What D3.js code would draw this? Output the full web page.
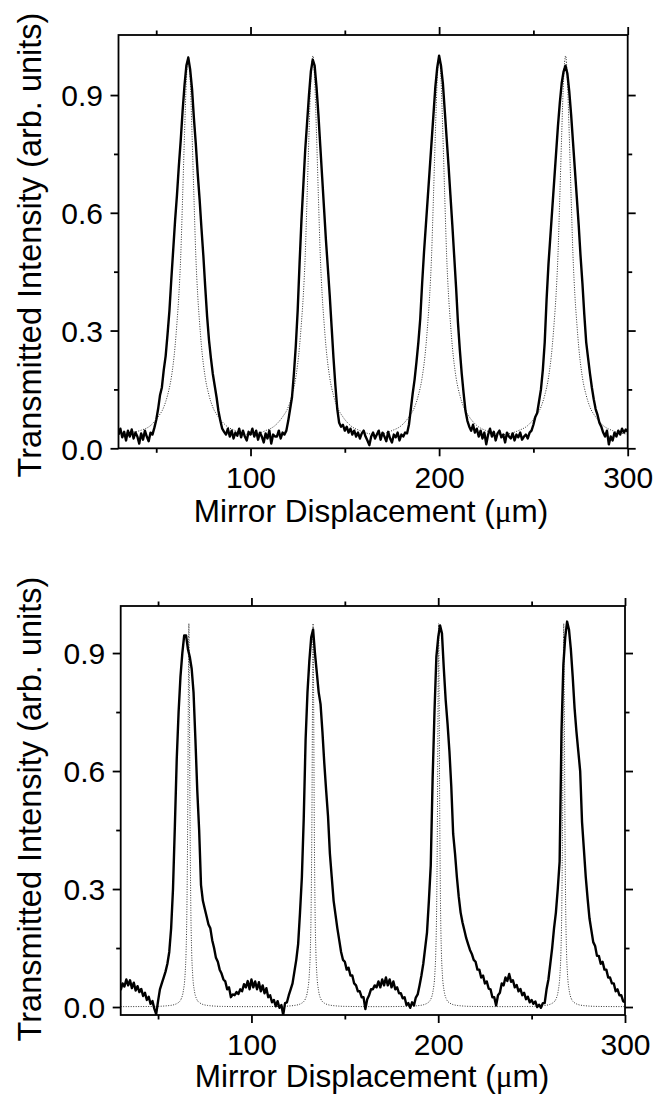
<!DOCTYPE html>
<html>
<head>
<meta charset="utf-8">
<script src="https://cdn.jsdelivr.net/npm/d3@7"></script>
<style>
  body { margin: 0; background: #fff; }
  text { font-family: "Liberation Sans", Arial, sans-serif; fill: #000; }
</style>
</head>
<body>
<svg id="chart" width="659" height="1101"></svg>
<script>
// measured traces, one sample per micron starting at xStart
const xStart = 30;

const topSignal = [
  0.035, 0.05, 0.028, 0.042, 0.02, 0.045, 0.03, 0.048, 0.025, 0.04,
  0.03, 0.012, 0.038, 0.022, 0.045, 0.03, 0.018, 0.04, 0.035, 0.052,
  0.072, 0.1, 0.135, 0.155, 0.2, 0.235, 0.29, 0.35, 0.43, 0.505,
  0.58, 0.645, 0.72, 0.785, 0.86, 0.925, 0.975, 0.995, 0.965, 0.915,
  0.84, 0.775, 0.70, 0.635, 0.56, 0.49, 0.41, 0.335, 0.275, 0.23,
  0.19, 0.16, 0.13, 0.095, 0.07, 0.05, 0.042, 0.035, 0.05, 0.03,
  0.045, 0.025, 0.04, 0.032, 0.05, 0.028, 0.045, 0.03, 0.02, 0.042,
  0.035, 0.05, 0.03, 0.045, 0.022, 0.04, 0.03, 0.015, 0.038, 0.025,
  0.045, 0.012, 0.035, 0.03, 0.03, 0.045, 0.025, 0.04, 0.035, 0.045,
  0.07, 0.1, 0.13, 0.19, 0.26, 0.35, 0.47, 0.58, 0.67, 0.76,
  0.83, 0.9, 0.96, 0.99, 0.975, 0.92, 0.85, 0.77, 0.69, 0.61,
  0.53, 0.46, 0.39, 0.31, 0.23, 0.16, 0.1, 0.065, 0.055, 0.06,
  0.045, 0.055, 0.04, 0.05, 0.035, 0.045, 0.03, 0.04, 0.025, 0.038,
  0.045, 0.03, 0.02, 0.008, 0.03, 0.04, 0.025, 0.035, 0.045, 0.022,
  0.04, 0.03, 0.018, 0.042, 0.025, 0.015, 0.035, 0.028, 0.04, 0.02,
  0.035, 0.03, 0.04, 0.038, 0.06, 0.1, 0.14, 0.175, 0.22, 0.27,
  0.33, 0.42, 0.5, 0.57, 0.64, 0.71, 0.78, 0.85, 0.92, 0.97,
  1.0, 0.975, 0.93, 0.86, 0.79, 0.72, 0.645, 0.57, 0.49, 0.41,
  0.32, 0.25, 0.19, 0.14, 0.095, 0.07, 0.055, 0.045, 0.06, 0.04,
  0.05, 0.03, 0.045, 0.025, 0.04, 0.01, 0.035, 0.05, 0.03, 0.042,
  0.02, 0.038, 0.045, 0.028, 0.035, 0.015, 0.04, 0.03, 0.025, 0.038,
  0.02, 0.035, 0.028, 0.04, 0.022, 0.03, 0.035, 0.025, 0.04, 0.045,
  0.06, 0.08, 0.09, 0.12, 0.15, 0.2, 0.27, 0.38, 0.47, 0.54,
  0.61, 0.68, 0.75, 0.82, 0.88, 0.93, 0.96, 0.975, 0.955, 0.91,
  0.85, 0.78, 0.71, 0.64, 0.57, 0.49, 0.42, 0.34, 0.27, 0.23,
  0.19, 0.155, 0.125, 0.1, 0.085, 0.065, 0.055, 0.04, 0.03, 0.045,
  0.01, 0.03, 0.02, 0.04, 0.03, 0.045, 0.035, 0.05, 0.04, 0.048,
  0.042
];

const bottomSignal = [
  0.043, 0.06, 0.052, 0.07, 0.055, 0.068, 0.048, 0.062, 0.042, 0.053,
  0.038, 0.046, 0.028, 0.036, 0.018, 0.026, 0.008, 0.015, -0.004, -0.018,
  0.015, 0.045, 0.06, 0.075, 0.09, 0.11, 0.14, 0.2, 0.3, 0.46,
  0.63, 0.75, 0.84, 0.9, 0.945, 0.945, 0.91, 0.89, 0.86, 0.8,
  0.68, 0.55, 0.45, 0.31, 0.27, 0.25, 0.23, 0.21, 0.2, 0.17,
  0.15, 0.125, 0.115, 0.095, 0.085, 0.07, 0.065, 0.045, 0.05, 0.025,
  0.032, 0.03, 0.038, 0.033, 0.045, 0.04, 0.058, 0.05, 0.066, 0.045,
  0.07, 0.05, 0.065, 0.045, 0.063, 0.04, 0.055, 0.035, 0.048, 0.025,
  0.03, 0.012, 0.018, 0.002, 0.015, -0.002, 0.005, -0.02, 0.01, 0.012,
  0.03, 0.045, 0.06, 0.09, 0.12, 0.16, 0.24, 0.33, 0.48, 0.68,
  0.8, 0.88, 0.94, 0.96, 0.9, 0.85, 0.8, 0.77, 0.7, 0.62,
  0.55, 0.485, 0.39, 0.33, 0.27, 0.235, 0.2, 0.17, 0.14, 0.12,
  0.115, 0.095, 0.1, 0.08, 0.08, 0.06, 0.055, 0.04, 0.04, 0.025,
  0.025, -0.005, 0.02, 0.03, 0.045, 0.045, 0.055, 0.05, 0.065, 0.05,
  0.07, 0.055, 0.075, 0.055, 0.07, 0.05, 0.065, 0.045, 0.05, 0.035,
  0.035, 0.022, 0.025, 0.005, 0.01, -0.002, 0.012, 0.004, 0.024, 0.032,
  0.055, 0.08, 0.11, 0.15, 0.19, 0.27, 0.36, 0.58, 0.75, 0.89,
  0.94, 0.97, 0.95, 0.86, 0.78, 0.72, 0.65, 0.56, 0.44, 0.39,
  0.33, 0.28, 0.24, 0.215, 0.195, 0.175, 0.16, 0.145, 0.135, 0.12,
  0.115, 0.095, 0.095, 0.075, 0.08, 0.06, 0.065, 0.047, 0.045, 0.025,
  0.025, 0.004, 0.03, 0.036, 0.06, 0.055, 0.075, 0.066, 0.084, 0.064,
  0.068, 0.05, 0.056, 0.04, 0.046, 0.03, 0.036, 0.02, 0.026, 0.012,
  0.018, 0.008, 0.014, 0.0, 0.006, -0.002, 0.01, 0.01, 0.045, 0.07,
  0.11, 0.15, 0.2, 0.24, 0.3, 0.37, 0.7, 0.87, 0.94, 0.98,
  0.96, 0.91, 0.84, 0.76, 0.7, 0.65, 0.6, 0.47, 0.4, 0.33,
  0.275, 0.225, 0.195, 0.165, 0.155, 0.13, 0.13, 0.11, 0.115, 0.095,
  0.095, 0.075, 0.075, 0.06, 0.06, 0.04, 0.045, 0.03, 0.03, 0.015,
  0.012
];

// calculated (dotted) curves, [displacement, intensity]
const topFit = [
  [30, 0.036], [36, 0.04], [42, 0.046], [47, 0.058], [51, 0.08], [54, 0.105], [56, 0.135],
  [58, 0.18], [60, 0.26], [61, 0.32], [62, 0.39], [63, 0.49], [64, 0.64], [65, 0.8],
  [66, 0.94], [66.9, 1.0], [68, 0.94], [69, 0.8], [70, 0.64], [71, 0.49], [72, 0.39],
  [73, 0.32], [74, 0.26], [76, 0.18], [78, 0.135], [80, 0.105], [83, 0.08], [87, 0.058],
  [92, 0.045], [100, 0.035],
  [108, 0.045], [113, 0.058], [117, 0.08], [120, 0.105], [122, 0.135], [124, 0.18],
  [126, 0.26], [127, 0.32], [128, 0.39], [129, 0.49], [130, 0.64], [131, 0.8], [132, 0.94],
  [133.1, 1.0], [134, 0.94], [135, 0.8], [136, 0.64], [137, 0.49], [138, 0.39], [139, 0.32],
  [140, 0.26], [142, 0.18], [144, 0.135], [146, 0.105], [149, 0.08], [153, 0.058],
  [158, 0.045], [166.6, 0.035],
  [175, 0.045], [180, 0.058], [184, 0.08], [187, 0.105], [189, 0.135], [191, 0.18],
  [193, 0.26], [194, 0.32], [195, 0.39], [196, 0.49], [197, 0.64], [198, 0.8], [199, 0.94],
  [200.1, 1.0], [201, 0.94], [202, 0.8], [203, 0.64], [204, 0.49], [205, 0.39], [206, 0.32],
  [207, 0.26], [209, 0.18], [211, 0.135], [213, 0.105], [216, 0.08], [220, 0.058],
  [225, 0.045], [233.6, 0.035],
  [242, 0.045], [247, 0.058], [251, 0.08], [254, 0.105], [256, 0.135], [258, 0.18],
  [260, 0.26], [261, 0.32], [262, 0.39], [263, 0.49], [264, 0.64], [265, 0.8], [266, 0.94],
  [267.1, 1.0], [268, 0.94], [269, 0.8], [270, 0.64], [271, 0.49], [272, 0.39], [273, 0.32],
  [274, 0.26], [276, 0.18], [278, 0.135], [280, 0.105], [283, 0.08], [287, 0.058],
  [292, 0.045], [300, 0.036]
];

const bottomFit = [
  [30, 0.001], [48, 0.0015], [56.5, 0.004], [60.5, 0.01], [62.5, 0.022], [63.5, 0.04],
  [64.5, 0.085], [65, 0.14], [65.5, 0.27], [65.9, 0.5], [66.2, 0.78], [66.5, 0.975],
  [66.8, 0.78], [67.1, 0.5], [67.5, 0.27], [68, 0.14], [68.5, 0.085], [69.5, 0.04],
  [70.5, 0.022], [72.5, 0.01], [76.5, 0.004], [84.5, 0.0015], [100, 0.001],
  [115, 0.0015], [123, 0.004], [127, 0.01], [129, 0.022], [130, 0.04], [131, 0.085],
  [131.5, 0.14], [132, 0.27], [132.4, 0.5], [132.7, 0.78], [133, 0.975], [133.3, 0.78],
  [133.6, 0.5], [134, 0.27], [134.5, 0.14], [135, 0.085], [136, 0.04], [137, 0.022],
  [139, 0.01], [143, 0.004], [151, 0.0015], [166.6, 0.001],
  [182, 0.0015], [190.2, 0.004], [194.2, 0.01], [196.2, 0.022], [197.2, 0.04],
  [198.2, 0.085], [198.7, 0.14], [199.2, 0.27], [199.6, 0.5], [199.9, 0.78], [200.2, 0.975],
  [200.5, 0.78], [200.8, 0.5], [201.2, 0.27], [201.7, 0.14], [202.2, 0.085], [203.2, 0.04],
  [204.2, 0.022], [206.2, 0.01], [210.2, 0.004], [218.2, 0.0015], [233.7, 0.001],
  [249, 0.0015], [257.2, 0.004], [261.2, 0.01], [263.2, 0.022], [264.2, 0.04],
  [265.2, 0.085], [265.7, 0.14], [266.2, 0.27], [266.6, 0.5], [266.9, 0.78], [267.2, 0.975],
  [267.5, 0.78], [267.8, 0.5], [268.2, 0.27], [268.7, 0.14], [269.2, 0.085], [270.2, 0.04],
  [271.2, 0.022], [273.2, 0.01], [277.2, 0.004], [285.2, 0.0015], [300, 0.001]
];

const xMajorTicks = [100, 200, 300];
const xMinorTicks = [50, 150, 250];
const yMajorTicks = [0, 0.3, 0.6, 0.9];
const yMinorTicks = [0.15, 0.45, 0.75];
const yTickLabels = ["0.0", "0.3", "0.6", "0.9"];
const xTitle = "Mirror Displacement (";
const yTitle = "Transmitted Intensity (arb. units)";

const panels = [
  { signal: topSignal, fit: topFit, left: 118.5, right: 627.7, top: 35, bottom: 448.3,
    yDomain: [0, 1.053], xTitleY: 522, xTitleX: 371, yTitleX: 41, yTitleY: 245 },
  { signal: bottomSignal, fit: bottomFit, left: 120.7, right: 625, top: 606, bottom: 1015,
    yDomain: [-0.0203, 1.0196], xTitleY: 1087, xTitleX: 372, yTitleX: 41, yTitleY: 809 }
];

const svg = d3.select("#chart");
const FONT = '"Liberation Sans", Arial, sans-serif';

panels.forEach((p, idx) => {
  const x = d3.scaleLinear().domain([30, 300]).range([p.left, p.right]);
  const y = d3.scaleLinear().domain(p.yDomain).range([p.bottom, p.top]);
  const g = svg.append("g");

  const clipId = "clip" + idx;
  svg.append("clipPath").attr("id", clipId)
    .append("rect")
    .attr("x", p.left).attr("y", p.top - 2)
    .attr("width", p.right - p.left).attr("height", p.bottom - p.top + 2);

  const plot = g.append("g").attr("clip-path", `url(#${clipId})`);

  plot.append("path")
    .datum(p.fit)
    .attr("fill", "none")
    .attr("stroke", "#333")
    .attr("stroke-width", 1)
    .attr("stroke-dasharray", "1,1.5")
    .attr("d", d3.line().x(d => x(d[0])).y(d => y(d[1])).curve(d3.curveMonotoneX));

  plot.append("path")
    .datum(p.signal)
    .attr("fill", "none")
    .attr("stroke", "#000")
    .attr("stroke-width", 2.4)
    .attr("stroke-linejoin", "round")
    .attr("d", d3.line().x((d, i) => x(xStart + i)).y(d => y(d)));

  // frame
  g.append("rect")
    .attr("x", p.left).attr("y", p.top)
    .attr("width", p.right - p.left).attr("height", p.bottom - p.top)
    .attr("fill", "none").attr("stroke", "#000").attr("stroke-width", 1.8);

  const styleAxis = sel => {
    sel.select(".domain").remove();
    sel.selectAll(".tick line").attr("stroke-width", 1.8);
    sel.attr("font-size", 30).attr("font-family", FONT);
  };

  // bottom
  g.append("g").attr("transform", `translate(0,${p.bottom})`)
    .call(d3.axisBottom(x).tickValues(xMajorTicks).tickSize(8).tickPadding(10.7).tickFormat(d3.format("d")))
    .call(styleAxis);
  g.append("g").attr("transform", `translate(0,${p.bottom})`)
    .call(d3.axisBottom(x).tickValues(xMinorTicks).tickSize(4.5).tickFormat(""))
    .call(styleAxis);
  // top
  g.append("g").attr("transform", `translate(0,${p.top})`)
    .call(d3.axisTop(x).tickValues(xMajorTicks).tickSize(8).tickFormat(""))
    .call(styleAxis);
  g.append("g").attr("transform", `translate(0,${p.top})`)
    .call(d3.axisTop(x).tickValues(xMinorTicks).tickSize(4.5).tickFormat(""))
    .call(styleAxis);
  // left
  g.append("g").attr("transform", `translate(${p.left},0)`)
    .call(d3.axisLeft(y).tickValues(yMajorTicks).tickSize(8).tickPadding(7.5)
      .tickFormat((d, i) => yTickLabels[i]))
    .call(styleAxis)
    .call(s => s.selectAll("text").attr("dy", "0.36em"));
  g.append("g").attr("transform", `translate(${p.left},0)`)
    .call(d3.axisLeft(y).tickValues(yMinorTicks).tickSize(4.5).tickFormat(""))
    .call(styleAxis);
  // right
  g.append("g").attr("transform", `translate(${p.right},0)`)
    .call(d3.axisRight(y).tickValues(yMajorTicks).tickSize(8).tickFormat(""))
    .call(styleAxis);
  g.append("g").attr("transform", `translate(${p.right},0)`)
    .call(d3.axisRight(y).tickValues(yMinorTicks).tickSize(4.5).tickFormat(""))
    .call(styleAxis);

  // axis titles
  const xt = g.append("text")
    .attr("x", p.xTitleX).attr("y", p.xTitleY)
    .attr("text-anchor", "middle")
    .attr("font-size", 31.5)
    .text(xTitle);
  xt.append("tspan").attr("font-family", '"Liberation Serif", serif').text("\u03bc");
  xt.append("tspan").text("m)");

  g.append("text")
    .attr("transform", `translate(${p.yTitleX},${p.yTitleY}) rotate(-90)`)
    .attr("text-anchor", "middle")
    .attr("font-size", 32.5)
    .text(yTitle);
});
</script>
</body>
</html>
